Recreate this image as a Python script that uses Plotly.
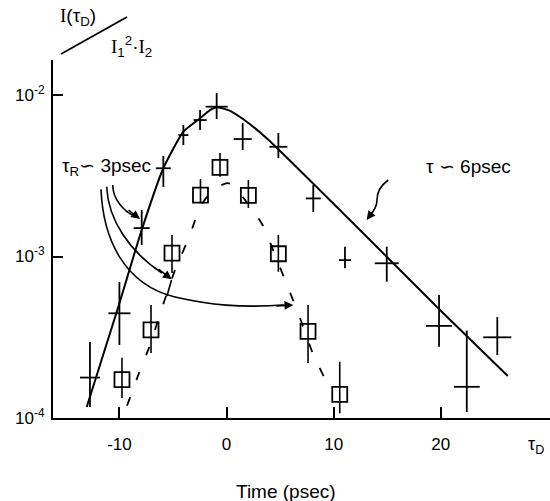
import plotly.graph_objects as go

# ---------------- data ----------------
# crosses (+) : delay time (psec), normalised signal, error bounds
cross_t = [-12.75, -10.0, -7.92, -5.90, -4.03, -2.47, -0.92, 1.51, 4.84, 8.10, 11.06, 14.96, 19.84, 22.43, 25.28]
cross_i = [1.78e-4, 4.45e-4, 1.50e-3, 3.52e-3, 5.65e-3, 7.0e-3, 8.47e-3, 5.34e-3, 4.78e-3, 2.29e-3, 9.5e-4, 9.08e-4, 3.72e-4, 1.56e-4, 3.16e-4]
cross_hi = [2.96e-4, 6.95e-4, 1.94e-3, 4.19e-3, 6.52e-3, 8.07e-3, 1.03e-2, 6.71e-3, 5.82e-3, 2.77e-3, 1.15e-3, 1.15e-3, 5.78e-4, 3.48e-4, 4.21e-4]
cross_lo = [1.17e-4, 2.83e-4, 1.18e-3, 2.70e-3, 4.90e-3, 6.07e-3, 7.10e-3, 4.57e-3, 4.07e-3, 1.89e-3, 8.45e-4, 6.98e-4, 2.76e-4, 1.09e-4, 2.45e-4]
cross_dt = [0.93, 1.03, 0.75, 0.70, 0.47, 0.61, 1.03, 0.84, 0.84, 0.70, 0.56, 1.12, 1.21, 1.21, 1.31]

# squares
sq_t = [-9.76, -7.05, -5.09, -2.43, -0.61, 2.04, 4.84, 7.61, 10.57]
sq_i = [1.73e-4, 3.51e-4, 1.05e-3, 2.40e-3, 3.56e-3, 2.39e-3, 1.04e-3, 3.44e-4, 1.40e-4]
sq_hi = [2.36e-4, 5.01e-4, 1.36e-3, 3.02e-3, 4.37e-3, 2.98e-3, 1.36e-3, 5.01e-4, 2.23e-4]
sq_lo = [1.33e-4, 2.53e-4, 7.91e-4, 2.14e-3, 3.12e-3, 2.00e-3, 8.05e-4, 2.19e-4, 1.07e-4]

# solid fitted curve
fit_t = [-13.05, -10.10, -7.92, -5.90, -4.03, -2.47, -1.54, -0.92, 0.17, 1.57, 3.75, 9.97, 19.93, 26.26]
fit_i = [1.17e-4, 4.89e-4, 1.46e-3, 3.52e-3, 5.93e-3, 7.18e-3, 8.07e-3, 8.39e-3, 8.07e-3, 7.08e-3, 5.40e-3, 2.13e-3, 4.67e-4, 1.82e-4]

# dashed curve through the squares
dash_t = [-9.29, -8.17, -7.14, -6.21, -4.81, -3.41, -2.47, -1.26, 0.14, 1.73, 3.41, 4.53, 5.65, 6.86, 8.08, 9.48]
dash_i = [1.19e-4, 1.90e-4, 2.83e-4, 4.41e-4, 8.24e-4, 1.36e-3, 2.03e-3, 2.58e-3, 2.85e-3, 2.24e-3, 1.55e-3, 1.02e-3, 6.67e-4, 4.16e-4, 2.49e-4, 1.60e-4]

x_ticks = [-10, 0, 10, 20]
x_tick_text = ["-10", "0", "10", "20"]
y_ticks = [1e-4, 1e-3, 1e-2]
y_tick_text = ["10<sup>-4</sup>", "10<sup>-3</sup>", "10<sup>-2</sup>"]

# ---------------- layout geometry ----------------
W, H = 550, 501
ML, MR, MT, MB = 53, 0, 60, 83
XR = [-16.2, 30.2]
YR = [-4.0, -1.783]
FONT = "Liberation Sans, Arial, sans-serif"
SERIF_I = "<span style=\"font-family:'Liberation Serif'\">I</span>"


def P(px, py):
    """pixel position in the figure -> paper coordinates"""
    return (px - ML) / (W - ML - MR), (H - MB - py) / (H - MT - MB)


def path(cmds):
    out = []
    for c, pts in cmds:
        coords = []
        for (px, py) in pts:
            a, b = P(px, py)
            coords.append(f"{a:.4f},{b:.4f}")
        out.append(c + " ".join(coords))
    return " ".join(out)


fig = go.Figure()

fig.add_trace(go.Scatter(
    x=fit_t, y=fit_i, mode="lines",
    line=dict(color="black", width=2, shape="spline", smoothing=0.5),
    hoverinfo="skip"))

fig.add_trace(go.Scatter(
    x=dash_t, y=dash_i, mode="lines",
    line=dict(color="black", width=1.8, dash="9px,18px", shape="spline", smoothing=0.6),
    hoverinfo="skip"))

fig.add_trace(go.Scatter(
    x=cross_t, y=cross_i, mode="markers",
    marker=dict(size=1, color="rgba(0,0,0,0)"),
    error_y=dict(type="data", symmetric=False,
                 array=[h - v for h, v in zip(cross_hi, cross_i)],
                 arrayminus=[v - l for l, v in zip(cross_lo, cross_i)],
                 width=0, thickness=1.8, color="black"),
    error_x=dict(type="data", array=cross_dt, width=0, thickness=1.8, color="black")))

fig.add_trace(go.Scatter(
    x=sq_t, y=sq_i, mode="markers",
    marker=dict(symbol="square-open", size=15, color="black", line=dict(width=1.8, color="black")),
    error_y=dict(type="data", symmetric=False,
                 array=[h - v for h, v in zip(sq_hi, sq_i)],
                 arrayminus=[v - l for l, v in zip(sq_lo, sq_i)],
                 width=0, thickness=1.6, color="black")))

shapes = []
line_style = dict(color="black", width=1.6)
# curved arrows from the tau_R label
shapes.append(dict(type="path", xref="paper", yref="paper", line=line_style,
                   path=path([("M", [(112.7, 185)]), ("C", [(113, 200), (124, 211), (134, 216)])])))
shapes.append(dict(type="path", xref="paper", yref="paper", line=line_style,
                   path=path([("M", [(106.7, 186.7)]), ("C", [(108, 220), (130, 252), (162, 273)])])))
shapes.append(dict(type="path", xref="paper", yref="paper", line=line_style,
                   path=path([("M", [(101, 189.3)]), ("C", [(103, 240), (125, 285), (175, 297)]),
                              ("C", [(210, 305), (240, 308), (284, 305)])])))
shapes.append(dict(type="path", xref="paper", yref="paper", line=line_style,
                   path=path([("M", [(171.5, 280)]), ("L", [(167, 296)])])))
# wavy arrow to the decay line
shapes.append(dict(type="path", xref="paper", yref="paper", line=line_style,
                   path=path([("M", [(388.3, 180)]), ("C", [(380, 186), (377, 192), (377, 200)]),
                              ("C", [(377, 208), (373, 212), (370, 215)])])))
# slash of the y-axis title fraction
shapes.append(dict(type="path", xref="paper", yref="paper", line=dict(color="black", width=1.8),
                   path=path([("M", [(61, 54)]), ("L", [(127, 17)])])))

annotations = []


def arrowhead(tip, tail):
    x, y = P(*tip)
    annotations.append(dict(x=x, y=y, xref="paper", yref="paper", text="", showarrow=True,
                            ax=tail[0] - tip[0], ay=tail[1] - tip[1],
                            arrowhead=2, arrowsize=1.1, arrowwidth=1.6, arrowcolor="black"))


arrowhead((140, 219), (127, 209))
arrowhead((171.7, 279.3), (157, 268))
arrowhead((293.3, 305), (275, 306))
arrowhead((366.7, 220), (374, 210))


def text(px, py, s, size=17, family=FONT, xanchor="center"):
    x, y = P(px, py)
    annotations.append(dict(x=x, y=y, xref="paper", yref="paper", text=s, showarrow=False,
                            xanchor=xanchor, yanchor="middle",
                            font=dict(family=family, size=size, color="black")))


text(106, 167, "τ<sub>R</sub>∽ 3psec", size=19)
text(468, 166, "τ ∽ 6psec", size=19)
text(78, 17, SERIF_I + "(τ<sub>D</sub>)", size=19)
text(131, 46, SERIF_I + "<sub>1</sub><sup>2</sup>·" + SERIF_I + "<sub>2</sub>", size=19)
text(536, 445, "τ<sub>D</sub>", size=18)
text(286, 491, "Time (psec)", size=19)

fig.update_layout(
    width=W, height=H,
    margin=dict(l=ML, r=MR, t=MT, b=MB),
    paper_bgcolor="white", plot_bgcolor="white",
    showlegend=False,
    font=dict(family=FONT, size=17, color="black"),
    shapes=shapes, annotations=annotations,
    xaxis=dict(range=XR, showgrid=False, zeroline=False, showline=True, linewidth=2, linecolor="black",
               ticks="inside", ticklen=11, tickwidth=2, tickcolor="black",
               tickvals=x_ticks, ticktext=x_tick_text, ticklabelstandoff=10,
               tickfont=dict(size=17)),
    yaxis=dict(type="log", range=YR, showgrid=False, zeroline=False, showline=True, linewidth=2,
               linecolor="black", ticks="inside", ticklen=10, tickwidth=2, tickcolor="black",
               tickvals=y_ticks, ticktext=y_tick_text, ticklabelstandoff=3,
               tickfont=dict(size=17)),
)

fig.write_html("out.html", config={"displayModeBar": False},
               post_script="document.body.style.margin='0';")
